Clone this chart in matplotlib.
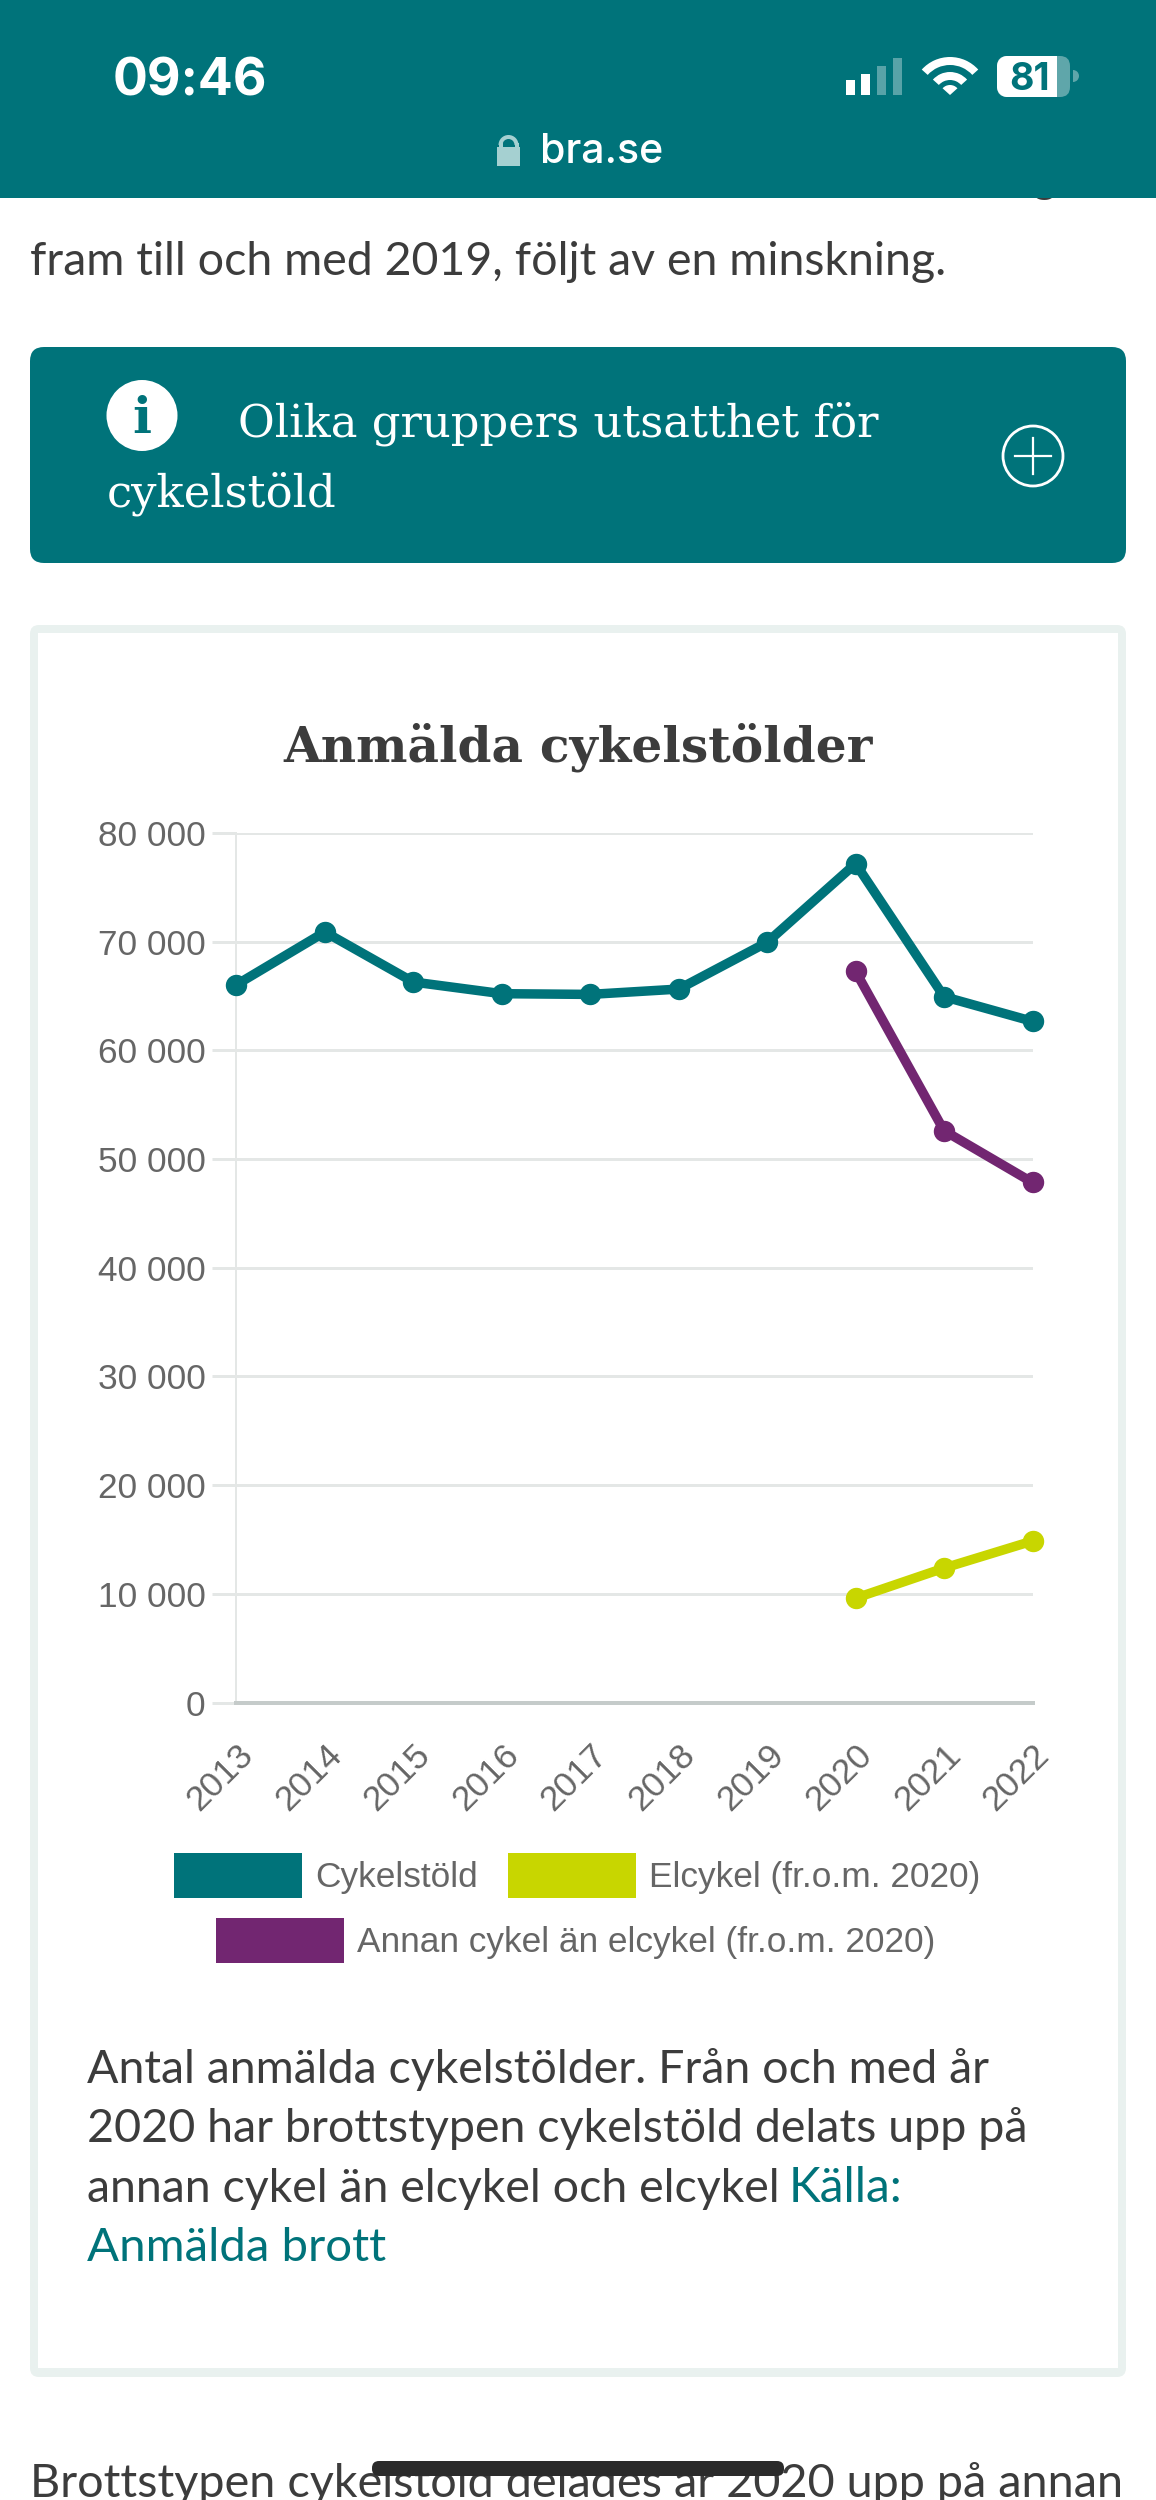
import numpy as np
import matplotlib
matplotlib.use("Agg")
import matplotlib.pyplot as plt
from matplotlib.patches import Rectangle, FancyBboxPatch, Circle, Wedge

# data
years = ["2013", "2014", "2015", "2016", "2017", "2018", "2019", "2020", "2021", "2022"]
cykelstold = [66040, 70890, 66290, 65215, 65150, 65640, 69940, 77180, 64940, 62670]
elcykel = [9600, 12370, 14860]
annan = [67270, 52610, 47850]
years_new = ["2020", "2021", "2022"]
y_ticks = [0, 10000, 20000, 30000, 40000, 50000, 60000, 70000, 80000]
y_labels = ["0", "10 000", "20 000", "30 000", "40 000", "50 000", "60 000", "70 000", "80 000"]
legend_labels = ["Cykelstöld", "Elcykel (fr.o.m. 2020)", "Annan cykel än elcykel (fr.o.m. 2020)"]

TEAL = "#00737a"
LIME = "#c8d600"
PURPLE = "#722671"
DARK = "#3c3c3c"
GREY = "#666666"
GRID = "#e4e7e6"
CARD = "#e9f1ef"

W, H = 1156, 2500
px = 0.72  # one pixel in points at dpi 100

fig = plt.figure(figsize=(W / 100, H / 100), dpi=100, facecolor="white")

# page layer, in pixels
bg = fig.add_axes([0, 0, 1, 1])
bg.set_xlim(0, W)
bg.set_ylim(H, 0)
bg.axis("off")


def txt(x, y, s, size, color=DARK, family="Lato", **kw):
    return bg.text(x, y, s, fontsize=size, color=color, family=family, va="baseline", **kw)


def round_box(x0, y0, x1, y1, r, **kw):
    bg.add_patch(FancyBboxPatch((x0 + r, y0 + r), x1 - x0 - 2 * r, y1 - y0 - 2 * r,
                                boxstyle="round,pad=%d,rounding_size=%d" % (r, r), **kw))


# text hidden under the header, only the g shows
txt(1045, 192, "g", 33, ha="center", zorder=1)

# header
bg.add_patch(Rectangle((0, 0), W, 198, fc=TEAL, ec="none", zorder=2))
txt(113, 96, "09:46", 37.3, "white", "Inter", fontweight="bold", zorder=3)
txt(540, 163, "bra.se", 29.6, "white", "Inter", fontweight="medium", zorder=3)

# lock
bg.add_patch(Rectangle((497, 147), 23, 19, fc="#a5d0d1", ec="none", zorder=3))
bg.add_patch(Wedge((508.5, 145), 10, 180, 360, width=4, fc="#a5d0d1", ec="none", zorder=3))
bg.add_patch(Rectangle((498.5, 143), 4, 6, fc="#a5d0d1", ec="none", zorder=3))
bg.add_patch(Rectangle((514.5, 143), 4, 6, fc="#a5d0d1", ec="none", zorder=3))

# signal bars
for x, top, a in [(846, 80, 1), (861, 74, 1), (877, 66, 0.35), (893, 58, 0.35)]:
    bg.add_patch(Rectangle((x, top), 9, 95 - top, fc="white", ec="none", alpha=a, zorder=3))

# wifi
for r, w in [(38, 8), (23, 8)]:
    bg.add_patch(Wedge((950, 95), r, 222, 318, width=w, fc="white", ec="none", zorder=3))
bg.add_patch(Wedge((950, 95), 10, 222, 318, fc="white", ec="none", zorder=3))

# battery
round_box(997, 56, 1070, 97, 10, fc="#5fa6aa", ec="none", zorder=3)
bg.add_patch(Rectangle((1007, 56), 50, 41, fc="white", ec="none", zorder=3))
bg.add_patch(Wedge((997 + 10, 66), 10, 180, 270, fc="white", ec="none", zorder=3))
bg.add_patch(Rectangle((997, 66), 10, 21, fc="white", ec="none", zorder=3))
bg.add_patch(Wedge((1007, 87), 10, 90, 180, fc="white", ec="none", zorder=3))
bg.add_patch(Wedge((1073, 76), 6, 270, 90, fc="#5fa6aa", ec="none", zorder=3))
txt(1030, 90, "81", 27, TEAL, "Inter", fontweight="bold", ha="center", zorder=4)

# text above the info box
txt(30, 275, "fram till och med 2019, följt av en minskning.", 33.5)

# info box
round_box(30, 347, 1126, 563, 14, fc=TEAL, ec="none")
bg.add_patch(Circle((142, 415.5), 35.5, fc="white", ec="none"))
txt(142, 433, "i", 36, TEAL, "DejaVu Serif", fontweight="bold", ha="center")
txt(238, 436, "Olika gruppers utsatthet för", 32.3, "white", "DejaVu Serif")
txt(107, 507, "cykelstöld", 32.3, "white", "DejaVu Serif")
bg.add_patch(Circle((1033, 456), 30, fc="none", ec="white", lw=2))
bg.plot([1015, 1051], [456, 456], color="white", lw=1.6)
bg.plot([1033, 1033], [438, 474], color="white", lw=1.6)

# chart card
round_box(30, 625, 1126, 2377, 9, fc=CARD, ec="none")
bg.add_patch(Rectangle((38, 633), 1080, 1735, fc="white", ec="none"))
txt(578, 762, "Anmälda cykelstölder", 35, DARK, "DejaVu Serif", fontweight="bold", ha="center")

# chart, placed so data lands on the reference pixels
x0, x1, y_top, y_bot = 236.4, 1032.5, 833, 1702.5
ax = fig.add_axes([x0 / W, 1 - y_bot / H, (x1 - x0) / W, (y_bot - y_top) / H])
ax.patch.set_alpha(0)
xpos = np.arange(len(years))
new_pos = [years.index(y) for y in years_new]

ax.plot(xpos, cykelstold, color=TEAL, lw=9.5 * px, marker="o", ms=20 * px, clip_on=False, zorder=4)
ax.plot(new_pos, elcykel, color=LIME, lw=9.5 * px, marker="o", ms=20 * px, clip_on=False, zorder=3)
ax.plot(new_pos, annan, color=PURPLE, lw=9.5 * px, marker="o", ms=20 * px, clip_on=False, zorder=3)

ax.set_xlim(0, len(years) - 1)
ax.set_ylim(0, 80000)
ax.set_yticks(y_ticks)
ax.set_yticklabels(y_labels, fontsize=25.4, color=GREY, family="Liberation Sans")
ax.set_xticks(xpos)
ax.set_xticklabels(years, fontsize=25.4, color=GREY, family="Liberation Sans",
                   rotation=45, ha="right", va="top", rotation_mode="anchor")
ax.tick_params(axis="y", length=24 * px, width=3 * px, color=GRID, pad=7 * px)
ax.tick_params(axis="x", length=0, pad=26)
ax.grid(axis="y", color=GRID, lw=3 * px, zorder=0)
ax.set_axisbelow(True)
for s in ["top", "right"]:
    ax.spines[s].set_visible(False)
ax.spines["left"].set_color(GRID)
ax.spines["left"].set_linewidth(2 * px)
ax.spines["bottom"].set_color("#c5cbca")
ax.spines["bottom"].set_linewidth(4 * px)

# legend, laid out in two centred rows as in the original
swatches = [(174, 1853, TEAL, 315), (508, 1853, LIME, 649), (216, 1918, PURPLE, 357)]
for (sx, sy, col, tx), label in zip(swatches, legend_labels):
    bg.add_patch(Rectangle((sx, sy), 127.5, 45, fc=col, ec="none"))
    txt(tx, sy + 34, label, 25.4, GREY, "Liberation Sans")

# caption
caption = ["Antal anmälda cykelstölder. Från och med år",
           "2020 har brottstypen cykelstöld delats upp på",
           "annan cykel än elcykel och elcykel "]
for yb, line, size in zip([2083, 2142, 2202], caption, [33.5, 33.6, 33.5]):
    txt(87, yb, line, size)
txt(789, 2202, "Källa:", 34.5, TEAL)
txt(87, 2261, "Anmälda brott", 34.1, TEAL)

# text running off the bottom, and the home bar
txt(30, 2497, "Brottstypen cykelstöld delades år 2020 upp på annan", 33.7, zorder=1)
round_box(372, 2461, 784, 2476, 7, fc="#2b2b2b", ec="none", zorder=3)

fig.savefig("out.png", dpi=100)
